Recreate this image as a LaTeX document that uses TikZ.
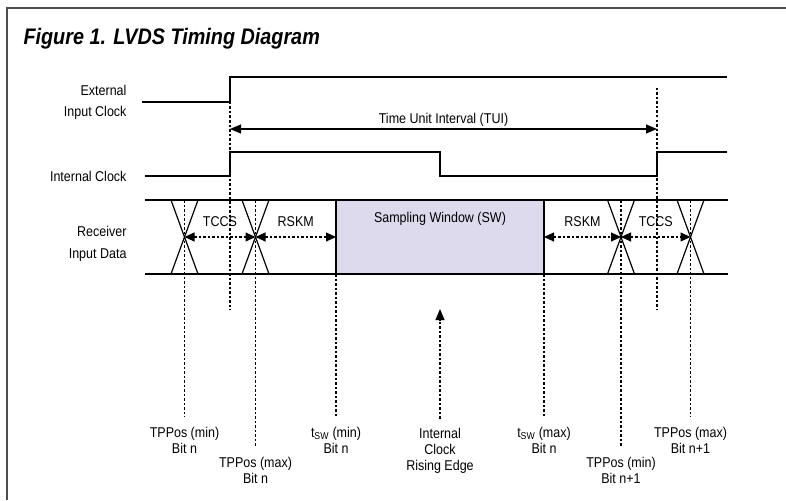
\documentclass[tikz,border=0pt]{standalone}
\usepackage{fontspec}
\setmainfont{Liberation Sans}
\newfontfamily\narrowsans{Liberation Sans}[FakeStretch=0.88]
\usetikzlibrary{arrows.meta,positioning}
\definecolor{framegray}{HTML}{4D4D4D}
\definecolor{swlilac}{HTML}{DCDAEC}
\tikzset{
  bighead/.tip={Triangle[length=11pt,width=9pt]},
  sig/.style={line width=1.2pt},
  guide/.style={line width=1.1pt,dash pattern=on 2.5pt off 2pt},
  dimline/.style={guide,{Triangle[length=10pt,width=9pt]}-{Triangle[length=10pt,width=9pt]}},
  lbl/.style={font=\narrowsans\fontsize{14.2}{16}\selectfont,align=center},
  edgelbl/.style={lbl,font=\narrowsans\fontsize{14.2}{21.5}\selectfont,align=right,anchor=east},
}

\begin{document}
\begin{tikzpicture}[x=1pt,y=-1pt]
  \useasboundingbox (0,0) rectangle (786,500);
  \draw[framegray,line width=2pt] (7,500) -- (7,8) -- (786,8);
  \node[anchor=west,font=\narrowsans\fontsize{22.5}{26}\selectfont\bfseries\itshape] (title) at (20,39) {Figure 1. LVDS Timing Diagram};

  % signal names
  \node[edgelbl] (extname) at (130,102.5) {External\\Input Clock};
  \node[edgelbl] (intname) at (130,176) {Internal Clock};
  \node[edgelbl] (rxname) at (130,244) {Receiver\\Input Data};

  % clocks
  \draw[sig] (142,102) -- (230,102) -- (230,77) -- (727,77);
  \draw[sig] (145,176) -- (230,176) -- (230,152) -- (440,152) -- (440,176) -- (657,176) -- (657,152) -- (727,152);
  \coordinate (edgeL) at (230,102);
  \coordinate (edgeR) at (657,88);
  \coordinate (edgeLend) at (230,310);
  \coordinate (edgeRend) at (657,310);
  \draw[guide] (edgeL) -- (edgeLend);
  \draw[guide] (edgeR) -- (edgeRend);
  \coordinate (tuiL) at (230,129);
  \coordinate (tuiR) at (657,129);
  \draw[sig,{bighead}-{bighead}] (tuiL) -- node[lbl,above=-1.5pt] (tui) {Time Unit Interval (TUI)} (tuiR);

  % data bus with sampling window
  \coordinate (swmin) at (336,237);
  \coordinate (swmax) at (544,237);
  \fill[swlilac] (336,200) rectangle (544,274);
  \draw[sig] (145,200) -- (728,200);
  \draw[sig] (145,274) -- (728,274);
  \draw[sig] (336,200) -- (336,274);
  \draw[sig] (544,200) -- (544,274);
  \node[lbl] (sw) at (440,219) {Sampling Window (SW)};
  \foreach \n/\x in {pmin/184.5,pmax/255.5,pminB/621,pmaxB/690.5}{
    \coordinate (\n) at (\x,237);
    \draw[sig] ([shift={(-13.5,-37)}]\n) -- ([shift={(13.5,37)}]\n);
    \draw[sig] ([shift={(13.5,-37)}]\n) -- ([shift={(-13.5,37)}]\n);
  }

  % skew arrows
  \draw[dimline] (pmin) -- node[lbl,above=6.5pt] (tccsL) {TCCS} (pmax);
  \draw[dimline] (pmax) -- node[lbl,above=6.5pt] (rskmL) {RSKM} (swmin);
  \draw[dimline] (swmax) -- node[lbl,above=6.5pt] (rskmR) {RSKM} (pminB);
  \draw[dimline] (pminB) -- node[lbl,above=6.5pt] (tccsR) {TCCS} (pmaxB);

  % position labels
  \node[lbl] (pminlbl) at (184.5,440) {TPPos (min)\\Bit n};
  \node[lbl] (pmaxlbl) at (255.5,470) {TPPos (max)\\Bit n};
  \node[lbl] (swminlbl) at (336,440) {t\textsubscript{SW} (min)\\Bit n};
  \node[lbl] (clklbl) at (440,451) {Internal\\Clock\\Rising Edge};
  \node[lbl] (swmaxlbl) at (544,440) {t\textsubscript{SW} (max)\\Bit n};
  \node[lbl] (pminBlbl) at (621,470) {TPPos (min)\\Bit n+1};
  \node[lbl] (pmaxBlbl) at (690.5,440) {TPPos (max)\\Bit n+1};
  \draw[guide,shorten <=-37pt,shorten >=6pt] (pmin) -- (pminlbl);
  \draw[guide,shorten <=-37pt,shorten >=6pt] (pmax) -- (pmaxlbl);
  \draw[guide,shorten <=37pt,shorten >=6pt] (swmin) -- (swminlbl);
  \draw[guide,shorten <=37pt,shorten >=6pt] (swmax) -- (swmaxlbl);
  \draw[guide,shorten <=-37pt,shorten >=6pt] (pminB) -- (pminBlbl);
  \draw[guide,shorten <=-37pt,shorten >=6pt] (pmaxB) -- (pmaxBlbl);
  \coordinate (clktip) at (440,309);
  \draw[guide,shorten <=6pt,-{bighead}] (clklbl) -- (clktip);
\end{tikzpicture}
\end{document}
